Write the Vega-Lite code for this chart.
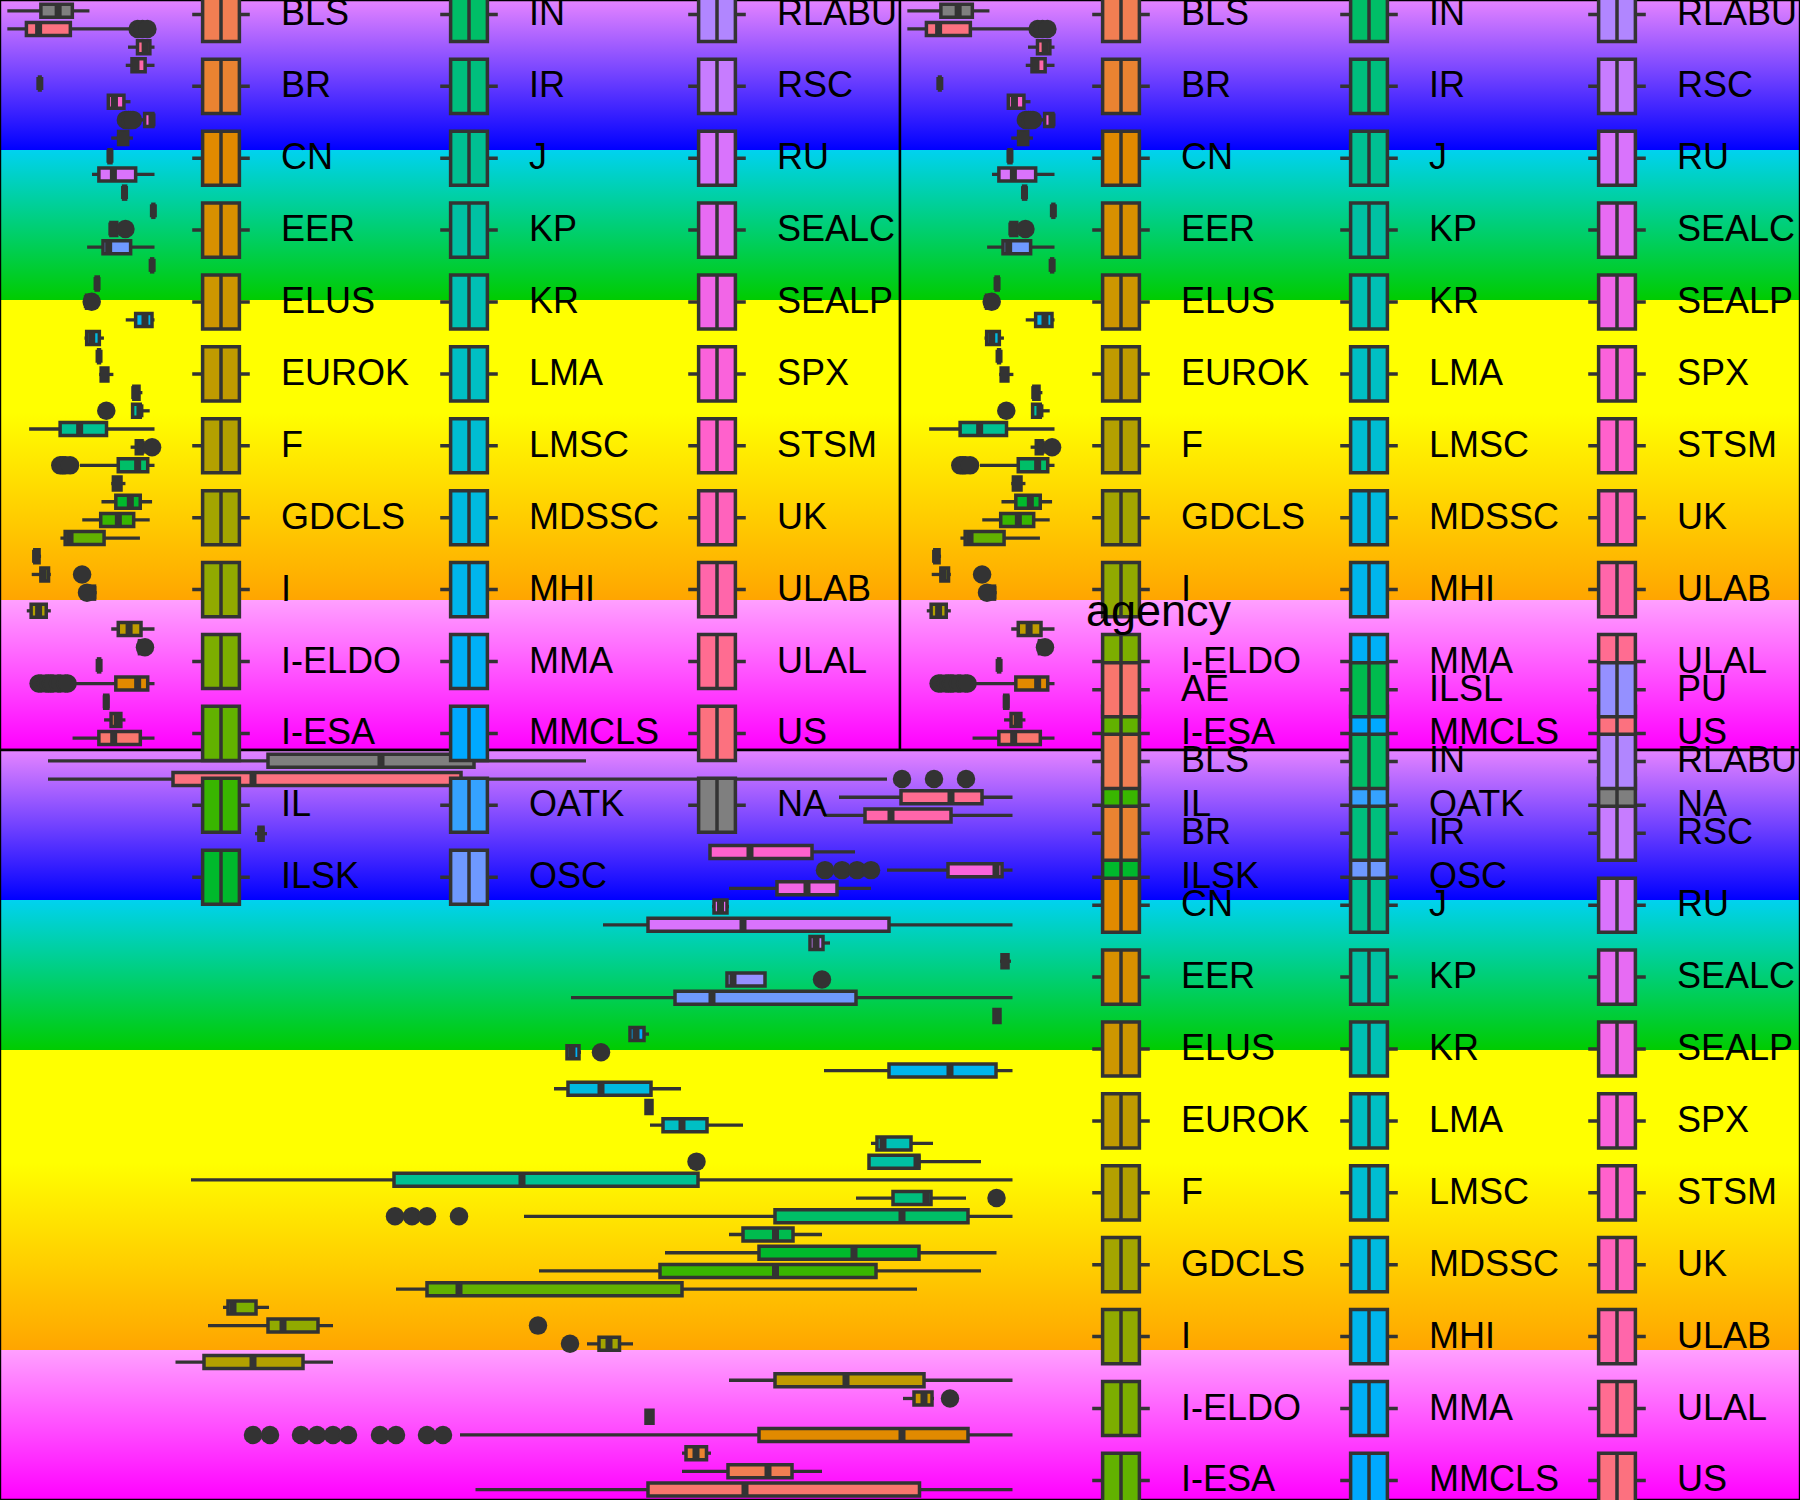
{
  "$schema": "https://vega.github.io/schema/vega-lite/v6.json",
  "width": 1800,
  "height": 1500,
  "padding": 0,
  "autosize": {"type": "none"},
  "background": "#ffffff",
  "config": {"view": {"stroke": null}},
  "datasets": {
    "tiles": [
      {"tile": "top-left", "c0": 0, "c1": 1, "r0": 0, "r1": 1},
      {"tile": "top-right", "c0": 1, "c1": 2, "r0": 0, "r1": 1},
      {"tile": "bottom", "c0": 0, "c1": 2, "r0": 1, "r1": 2}
    ],
    "stats": [
      {"agency": "NA", "lo": 4.8, "q1": 26.8, "med": 38.1, "q3": 47.4, "hi": 58.6},
      {"agency": "US", "lo": 4.8, "q1": 17.3, "med": 25.3, "q3": 46.1, "hi": 88.7},
      {"agency": "ULAL", "lo": 83.9, "q1": 90.1, "med": 95.1, "q3": 98.2, "hi": 101.25},
      {"agency": "ULAB", "lo": 82.4, "q1": 86.5, "med": 89.1, "q3": 95.1, "hi": 101.25},
      {"agency": "UK", "lo": 25.5, "q1": 25.9, "med": 26.1, "q3": 26.3, "hi": 26.7},
      {"agency": "STSM", "lo": 71.0, "q1": 71.0, "med": 75.0, "q3": 81.2, "hi": 85.5},
      {"agency": "SPX", "lo": 88.7, "q1": 94.8, "med": 99.6, "q3": 100.2, "hi": 101.25},
      {"agency": "SEALP", "lo": 72.9, "q1": 77.7, "med": 80.7, "q3": 83.7, "hi": 87.1},
      {"agency": "SEALC", "lo": 71.2, "q1": 71.4, "med": 72.05, "q3": 72.7, "hi": 72.9},
      {"agency": "RU", "lo": 60.3, "q1": 64.8, "med": 74.3, "q3": 88.9, "hi": 101.25},
      {"agency": "RSC", "lo": 80.9, "q1": 81.0, "med": 81.6, "q3": 82.3, "hi": 83.0},
      {"agency": "RLABU", "lo": 100.0, "q1": 100.2, "med": 100.5, "q3": 100.8, "hi": 101.1},
      {"agency": "PU", "lo": 72.7, "q1": 72.7, "med": 73.3, "q3": 76.5, "hi": 76.5},
      {"agency": "OSC", "lo": 57.1, "q1": 67.5, "med": 71.2, "q3": 85.6, "hi": 101.25},
      {"agency": "OATK", "lo": 99.3, "q1": 99.4, "med": 99.7, "q3": 100.0, "hi": 100.1},
      {"agency": "MMCLS", "lo": 62.9, "q1": 63.0, "med": 63.6, "q3": 64.4, "hi": 64.9},
      {"agency": "MMA", "lo": 56.6, "q1": 56.7, "med": 57.2, "q3": 57.9, "hi": 58.1},
      {"agency": "MHI", "lo": 82.4, "q1": 88.9, "med": 95.0, "q3": 99.6, "hi": 101.25},
      {"agency": "MDSSC", "lo": 55.4, "q1": 56.8, "med": 60.1, "q3": 65.1, "hi": 68.1},
      {"agency": "LMSC", "lo": 64.5, "q1": 64.6, "med": 64.9, "q3": 65.2, "hi": 65.3},
      {"agency": "LMA", "lo": 65.0, "q1": 66.3, "med": 68.2, "q3": 70.7, "hi": 74.3},
      {"agency": "KR", "lo": 87.1, "q1": 87.7, "med": 88.3, "q3": 91.1, "hi": 93.3},
      {"agency": "KP", "lo": 86.9, "q1": 86.9, "med": 91.7, "q3": 91.9, "hi": 98.1},
      {"agency": "J", "lo": 19.1, "q1": 39.4, "med": 52.2, "q3": 69.8, "hi": 101.25},
      {"agency": "IR", "lo": 85.6, "q1": 89.3, "med": 92.6, "q3": 93.1, "hi": 96.6},
      {"agency": "IN", "lo": 52.4, "q1": 77.5, "med": 90.2, "q3": 96.8, "hi": 101.25},
      {"agency": "ILSL", "lo": 72.9, "q1": 74.3, "med": 77.55, "q3": 79.3, "hi": 82.2},
      {"agency": "ILSK", "lo": 66.5, "q1": 75.9, "med": 85.4, "q3": 91.9, "hi": 99.65},
      {"agency": "IL", "lo": 53.9, "q1": 66.0, "med": 77.55, "q3": 87.6, "hi": 98.1},
      {"agency": "I-ESA", "lo": 39.6, "q1": 42.7, "med": 45.9, "q3": 68.2, "hi": 91.7},
      {"agency": "I-ELDO", "lo": 22.3, "q1": 22.8, "med": 23.3, "q3": 25.6, "hi": 26.9},
      {"agency": "I", "lo": 20.8, "q1": 26.8, "med": 28.3, "q3": 31.8, "hi": 33.3},
      {"agency": "GDCLS", "lo": 58.7, "q1": 59.9, "med": 60.9, "q3": 61.95, "hi": 63.3},
      {"agency": "F", "lo": 17.55, "q1": 20.4, "med": 25.3, "q3": 30.3, "hi": 33.3},
      {"agency": "EUROK", "lo": 72.9, "q1": 77.5, "med": 84.6, "q3": 92.4, "hi": 101.25},
      {"agency": "ELUS", "lo": 90.3, "q1": 91.4, "med": 92.4, "q3": 93.2, "hi": 93.4},
      {"agency": "EER", "lo": 64.5, "q1": 64.6, "med": 64.95, "q3": 65.3, "hi": 65.4},
      {"agency": "CN", "lo": 46.0, "q1": 75.9, "med": 90.2, "q3": 96.8, "hi": 101.25},
      {"agency": "BR", "lo": 68.2, "q1": 68.6, "med": 69.6, "q3": 70.65, "hi": 71.1},
      {"agency": "BLS", "lo": 68.2, "q1": 72.8, "med": 76.8, "q3": 79.2, "hi": 82.2},
      {"agency": "AE", "lo": 47.55, "q1": 64.8, "med": 74.5, "q3": 91.95, "hi": 101.25}
    ],
    "outliers": [
      {"agency": "US", "v": 90.2}, {"agency": "US", "v": 93.4}, {"agency": "US", "v": 96.6},
      {"agency": "SPX", "v": 82.5}, {"agency": "SPX", "v": 84.2}, {"agency": "SPX", "v": 85.7}, {"agency": "SPX", "v": 87.1},
      {"agency": "PU", "v": 82.2},
      {"agency": "MMA", "v": 60.1},
      {"agency": "KP", "v": 69.65},
      {"agency": "IR", "v": 99.65},
      {"agency": "IN", "v": 39.5}, {"agency": "IN", "v": 41.2}, {"agency": "IN", "v": 42.7}, {"agency": "IN", "v": 45.9},
      {"agency": "I", "v": 53.8},
      {"agency": "GDCLS", "v": 57.0},
      {"agency": "ELUS", "v": 95.0},
      {"agency": "CN", "v": 25.3}, {"agency": "CN", "v": 27.0}, {"agency": "CN", "v": 30.1}, {"agency": "CN", "v": 31.7}, {"agency": "CN", "v": 33.3},
      {"agency": "CN", "v": 34.8}, {"agency": "CN", "v": 38.0}, {"agency": "CN", "v": 39.6}, {"agency": "CN", "v": 42.7}, {"agency": "CN", "v": 44.3}
    ]
  },
  "layer": [
    {
      "data": {"name": "tiles"},
      "mark": {
        "type": "rect",
        "fill": {
          "gradient": "linear", "x1": 0, "y1": 0, "x2": 0, "y2": 1,
          "stops": [
            {"offset": 0, "color": "#E584FF"},
            {"offset": 0.2, "color": "#0000FF"},
            {"offset": 0.2, "color": "#00D2F0"},
            {"offset": 0.4, "color": "#00CC00"},
            {"offset": 0.4, "color": "#FFFF00"},
            {"offset": 0.55, "color": "#FFFF00"},
            {"offset": 0.8, "color": "#FFA500"},
            {"offset": 0.8, "color": "#FFA0FF"},
            {"offset": 1, "color": "#FF00FF"}
          ]
        },
        "stroke": "#000000",
        "strokeWidth": 2.4
      },
      "encoding": {
        "x": {"field": "c0", "type": "quantitative", "scale": {"domain": [0, 2], "range": [0, 1800], "nice": false, "zero": false}, "axis": null},
        "x2": {"field": "c1"},
        "y": {"field": "r0", "type": "quantitative", "scale": {"domain": [0, 2], "range": [0, 1500], "nice": false, "zero": false}, "axis": null},
        "y2": {"field": "r1"}
      }
    },
    {
      "layer": [
        {
          "data": {"name": "stats"},
          "mark": {"type": "rule", "color": "#333333", "strokeWidth": 3.3},
          "encoding": {
            "y": {"field": "agency", "type": "nominal", "scale": {"domain": ["NA","US","ULAL","ULAB","UK","STSM","SPX","SEALP","SEALC","RU","RSC","RLABU","PU","OSC","OATK","MMCLS","MMA","MHI","MDSSC","LMSC","LMA","KR","KP","J","IR","IN","ILSL","ILSK","IL","I-ESA","I-ELDO","I","GDCLS","F","EUROK","ELUS","EER","CN","BR","BLS","AE"], "range": [1.7, 747.2], "paddingInner": 0, "paddingOuter": 0}, "axis": null},
            "x": {"field": "lo", "type": "quantitative", "scale": {"domain": [0, 100], "range": [0, 152.6], "nice": false, "zero": false}, "axis": null},
            "x2": {"field": "hi"}
          }
        },
        {
          "data": {"name": "stats"},
          "mark": {"type": "bar", "size": 13, "stroke": "#333333", "strokeWidth": 3.5, "opacity": 1},
          "encoding": {
            "y": {"field": "agency", "type": "nominal", "axis": null},
            "x": {"field": "q1", "type": "quantitative", "axis": null},
            "x2": {"field": "q3"},
            "color": {
              "field": "agency", "type": "nominal",
              "scale": {
                "domain": ["AE","BLS","BR","CN","EER","ELUS","EUROK","F","GDCLS","I","I-ELDO","I-ESA","IL","ILSK","ILSL","IN","IR","J","KP","KR","LMA","LMSC","MDSSC","MHI","MMA","MMCLS","OATK","OSC","PU","RLABU","RSC","RU","SEALC","SEALP","SPX","STSM","UK","ULAB","ULAL","US","NA"],
                "range": ["#F8766D","#F17E52","#EA8331","#E18A00","#D89000","#CD9600","#C09B00","#B3A000","#A3A500","#91AA00","#7CAE00","#62B200","#39B600","#00B92C","#00BB4E","#00BE67","#00BF7D","#00C092","#00C1A3","#00C0B4","#00BFC4","#00BDD2","#00BAE0","#00B5ED","#00B0F6","#00A9FF","#35A2FF","#6E99FF","#9590FF","#B186FF","#C77CFF","#D973FC","#E76BF3","#F265E7","#FA62DB","#FF61CC","#FF62BC","#FF66AA","#FF6C91","#FC717F","#7F7F7F"]
              },
              "legend": {
                "orient": "none", "legendX": 186, "legendY": -157.5, "zindex": 1,
                "symbolLimit": 60,
                "columns": 3, "gridAlign": "all", "columnPadding": 21, "rowPadding": 2.9, "padding": 0,
                "symbolType": "M-0.487,-0.95L0.803,-0.95L0.803,0.95L-0.487,0.95ZM0.158,-0.95L0.158,0.95M-0.852,0L-0.487,0M0.803,0L1.168,0",
                "symbolSize": 3249, "symbolStrokeColor": "#333333", "symbolStrokeWidth": 3.5, "symbolOpacity": 1,
                "labelFont": "Liberation Sans", "labelFontSize": 36, "labelColor": "#000000", "labelOffset": 34, "labelLimit": 400,
                "title": "agency", "titleFont": "Liberation Sans", "titleFontSize": 45, "titleFontWeight": "normal", "titleColor": "#000000", "titlePadding": 24.5, "titleLimit": 600
              }
            }
          }
        },
        {
          "data": {"name": "stats"},
          "mark": {"type": "tick", "color": "#333333", "thickness": 7, "size": 13, "opacity": 1},
          "encoding": {
            "y": {"field": "agency", "type": "nominal", "axis": null},
            "x": {"field": "med", "type": "quantitative", "axis": null}
          }
        },
        {
          "data": {"name": "outliers"},
          "mark": {"type": "point", "filled": true, "shape": "circle", "size": 342, "color": "#333333", "opacity": 1},
          "encoding": {
            "y": {"field": "agency", "type": "nominal", "axis": null},
            "x": {"field": "v", "type": "quantitative", "axis": null}
          }
        }
      ]
    },
    {
      "layer": [
        {
          "data": {"name": "stats"},
          "mark": {"type": "rule", "color": "#333333", "strokeWidth": 3.3},
          "encoding": {
            "y": {"field": "agency", "type": "nominal", "scale": {"domain": ["NA","US","ULAL","ULAB","UK","STSM","SPX","SEALP","SEALC","RU","RSC","RLABU","PU","OSC","OATK","MMCLS","MMA","MHI","MDSSC","LMSC","LMA","KR","KP","J","IR","IN","ILSL","ILSK","IL","I-ESA","I-ELDO","I","GDCLS","F","EUROK","ELUS","EER","CN","BR","BLS","AE"], "range": [1.7, 747.2], "paddingInner": 0, "paddingOuter": 0}, "axis": null},
            "x": {"field": "lo", "type": "quantitative", "scale": {"domain": [0, 100], "range": [900, 1052.6], "nice": false, "zero": false}, "axis": null},
            "x2": {"field": "hi"}
          }
        },
        {
          "data": {"name": "stats"},
          "mark": {"type": "bar", "size": 13, "stroke": "#333333", "strokeWidth": 3.5, "opacity": 1},
          "encoding": {
            "y": {"field": "agency", "type": "nominal", "axis": null},
            "x": {"field": "q1", "type": "quantitative", "axis": null},
            "x2": {"field": "q3"},
            "color": {
              "field": "agency", "type": "nominal",
              "scale": {
                "domain": ["AE","BLS","BR","CN","EER","ELUS","EUROK","F","GDCLS","I","I-ELDO","I-ESA","IL","ILSK","ILSL","IN","IR","J","KP","KR","LMA","LMSC","MDSSC","MHI","MMA","MMCLS","OATK","OSC","PU","RLABU","RSC","RU","SEALC","SEALP","SPX","STSM","UK","ULAB","ULAL","US","NA"],
                "range": ["#F8766D","#F17E52","#EA8331","#E18A00","#D89000","#CD9600","#C09B00","#B3A000","#A3A500","#91AA00","#7CAE00","#62B200","#39B600","#00B92C","#00BB4E","#00BE67","#00BF7D","#00C092","#00C1A3","#00C0B4","#00BFC4","#00BDD2","#00BAE0","#00B5ED","#00B0F6","#00A9FF","#35A2FF","#6E99FF","#9590FF","#B186FF","#C77CFF","#D973FC","#E76BF3","#F265E7","#FA62DB","#FF61CC","#FF62BC","#FF66AA","#FF6C91","#FC717F","#7F7F7F"]
              },
              "legend": {
                "orient": "none", "legendX": 1086, "legendY": -157.5, "zindex": 1,
                "symbolLimit": 60,
                "columns": 3, "gridAlign": "all", "columnPadding": 21, "rowPadding": 2.9, "padding": 0,
                "symbolType": "M-0.487,-0.95L0.803,-0.95L0.803,0.95L-0.487,0.95ZM0.158,-0.95L0.158,0.95M-0.852,0L-0.487,0M0.803,0L1.168,0",
                "symbolSize": 3249, "symbolStrokeColor": "#333333", "symbolStrokeWidth": 3.5, "symbolOpacity": 1,
                "labelFont": "Liberation Sans", "labelFontSize": 36, "labelColor": "#000000", "labelOffset": 34, "labelLimit": 400,
                "title": "agency", "titleFont": "Liberation Sans", "titleFontSize": 45, "titleFontWeight": "normal", "titleColor": "#000000", "titlePadding": 24.5, "titleLimit": 600
              }
            }
          }
        },
        {
          "data": {"name": "stats"},
          "mark": {"type": "tick", "color": "#333333", "thickness": 7, "size": 13, "opacity": 1},
          "encoding": {
            "y": {"field": "agency", "type": "nominal", "axis": null},
            "x": {"field": "med", "type": "quantitative", "axis": null}
          }
        },
        {
          "data": {"name": "outliers"},
          "mark": {"type": "point", "filled": true, "shape": "circle", "size": 342, "color": "#333333", "opacity": 1},
          "encoding": {
            "y": {"field": "agency", "type": "nominal", "axis": null},
            "x": {"field": "v", "type": "quantitative", "axis": null}
          }
        }
      ]
    },
    {
      "layer": [
        {
          "data": {"name": "stats"},
          "mark": {"type": "rule", "color": "#333333", "strokeWidth": 3.3},
          "encoding": {
            "y": {"field": "agency", "type": "nominal", "scale": {"domain": ["NA","US","ULAL","ULAB","UK","STSM","SPX","SEALP","SEALC","RU","RSC","RLABU","PU","OSC","OATK","MMCLS","MMA","MHI","MDSSC","LMSC","LMA","KR","KP","J","IR","IN","ILSL","ILSK","IL","I-ESA","I-ELDO","I","GDCLS","F","EUROK","ELUS","EER","CN","BR","BLS","AE"], "range": [751.7, 1498.7], "paddingInner": 0, "paddingOuter": 0}, "axis": null},
            "x": {"field": "lo", "type": "quantitative", "scale": {"domain": [0, 100], "range": [0, 1000], "nice": false, "zero": false}, "axis": null},
            "x2": {"field": "hi"}
          }
        },
        {
          "data": {"name": "stats"},
          "mark": {"type": "bar", "size": 13, "stroke": "#333333", "strokeWidth": 3.5, "opacity": 1},
          "encoding": {
            "y": {"field": "agency", "type": "nominal", "axis": null},
            "x": {"field": "q1", "type": "quantitative", "axis": null},
            "x2": {"field": "q3"},
            "color": {
              "field": "agency", "type": "nominal",
              "scale": {
                "domain": ["AE","BLS","BR","CN","EER","ELUS","EUROK","F","GDCLS","I","I-ELDO","I-ESA","IL","ILSK","ILSL","IN","IR","J","KP","KR","LMA","LMSC","MDSSC","MHI","MMA","MMCLS","OATK","OSC","PU","RLABU","RSC","RU","SEALC","SEALP","SPX","STSM","UK","ULAB","ULAL","US","NA"],
                "range": ["#F8766D","#F17E52","#EA8331","#E18A00","#D89000","#CD9600","#C09B00","#B3A000","#A3A500","#91AA00","#7CAE00","#62B200","#39B600","#00B92C","#00BB4E","#00BE67","#00BF7D","#00C092","#00C1A3","#00C0B4","#00BFC4","#00BDD2","#00BAE0","#00B5ED","#00B0F6","#00A9FF","#35A2FF","#6E99FF","#9590FF","#B186FF","#C77CFF","#D973FC","#E76BF3","#F265E7","#FA62DB","#FF61CC","#FF62BC","#FF66AA","#FF6C91","#FC717F","#7F7F7F"]
              },
              "legend": {
                "orient": "none", "legendX": 1086, "legendY": 589.5, "zindex": 2,
                "symbolLimit": 60,
                "columns": 3, "gridAlign": "all", "columnPadding": 21, "rowPadding": 2.9, "padding": 0,
                "symbolType": "M-0.487,-0.95L0.803,-0.95L0.803,0.95L-0.487,0.95ZM0.158,-0.95L0.158,0.95M-0.852,0L-0.487,0M0.803,0L1.168,0",
                "symbolSize": 3249, "symbolStrokeColor": "#333333", "symbolStrokeWidth": 3.5, "symbolOpacity": 1,
                "labelFont": "Liberation Sans", "labelFontSize": 36, "labelColor": "#000000", "labelOffset": 34, "labelLimit": 400,
                "title": "agency", "titleFont": "Liberation Sans", "titleFontSize": 45, "titleFontWeight": "normal", "titleColor": "#000000", "titlePadding": 24.5, "titleLimit": 600
              }
            }
          }
        },
        {
          "data": {"name": "stats"},
          "mark": {"type": "tick", "color": "#333333", "thickness": 7, "size": 13, "opacity": 1},
          "encoding": {
            "y": {"field": "agency", "type": "nominal", "axis": null},
            "x": {"field": "med", "type": "quantitative", "axis": null}
          }
        },
        {
          "data": {"name": "outliers"},
          "mark": {"type": "point", "filled": true, "shape": "circle", "size": 342, "color": "#333333", "opacity": 1},
          "encoding": {
            "y": {"field": "agency", "type": "nominal", "axis": null},
            "x": {"field": "v", "type": "quantitative", "axis": null}
          }
        }
      ]
    }
  ],
  "resolve": {
    "scale": {"x": "independent", "y": "independent", "color": "independent"},
    "legend": {"color": "independent"}
  }
}
